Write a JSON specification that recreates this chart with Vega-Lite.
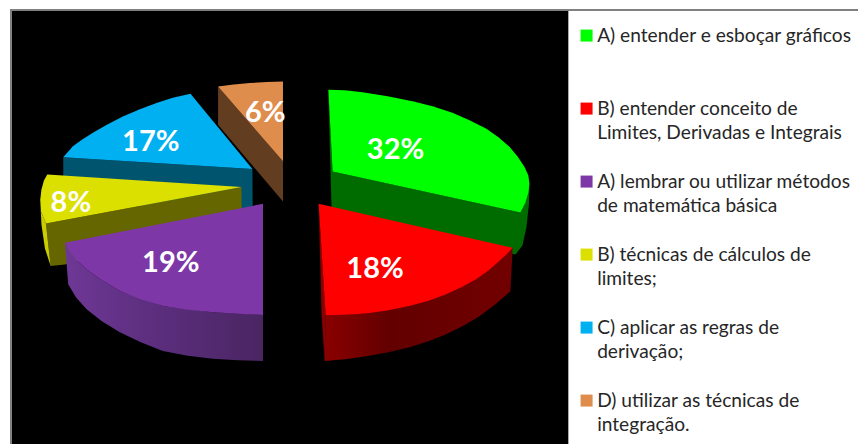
{
  "$schema": "https://vega.github.io/schema/vega-lite/v6.json",
  "width": 859,
  "height": 445,
  "padding": 0,
  "autosize": {"type": "fit", "contains": "padding"},
  "background": "white",
  "config": {"view": {"stroke": null}},
  "datasets": {
    "panel": [{"x": 12, "x2": 569, "y": 11, "y2": 445}],
    "frame": [{"x": 10, "x2": 859, "y": 10, "y2": 10}, {"x": 11, "x2": 11, "y": 10, "y2": 445}],
    "slices": [
      {"key": "A1", "name": "A) entender e esboçar gráficos", "share": 0.32, "cx": 396, "cy": 148},
      {"key": "B1", "name": "B) entender conceito de|Limites, Derivadas e Integrais", "share": 0.18, "cx": 375.5, "cy": 268},
      {"key": "A2", "name": "A) lembrar ou utilizar métodos|de matemática básica", "share": 0.19, "cx": 171, "cy": 262},
      {"key": "B2", "name": "B) técnicas de cálculos de|limites;", "share": 0.08, "cx": 71, "cy": 201},
      {"key": "C", "name": "C) aplicar as regras de|derivação;", "share": 0.17, "cx": 151, "cy": 140},
      {"key": "D", "name": "D) utilizar as técnicas de|integração.", "share": 0.06, "cx": 265.5, "cy": 111.5}
    ],
    "tops": [
      {"key": "A1", "n": 1, "x": 328.7, "y": 90}, {"key": "A1", "n": 2, "x": 345, "y": 90.5}, {"key": "A1", "n": 3, "x": 363, "y": 92.5},
      {"key": "A1", "n": 4, "x": 388, "y": 96.5}, {"key": "A1", "n": 5, "x": 413, "y": 101.5}, {"key": "A1", "n": 6, "x": 433, "y": 106.5},
      {"key": "A1", "n": 7, "x": 453, "y": 113}, {"key": "A1", "n": 8, "x": 470, "y": 120.5}, {"key": "A1", "n": 9, "x": 487, "y": 129},
      {"key": "A1", "n": 10, "x": 499, "y": 137.5}, {"key": "A1", "n": 11, "x": 510, "y": 147}, {"key": "A1", "n": 12, "x": 518, "y": 156.5},
      {"key": "A1", "n": 13, "x": 525, "y": 167}, {"key": "A1", "n": 14, "x": 529, "y": 176}, {"key": "A1", "n": 15, "x": 530, "y": 184},
      {"key": "A1", "n": 16, "x": 529, "y": 193}, {"key": "A1", "n": 17, "x": 526, "y": 203}, {"key": "A1", "n": 18, "x": 521, "y": 213},
      {"key": "A1", "n": 19, "x": 333, "y": 172}, {"key": "A1", "n": 20, "x": 328.7, "y": 90},

      {"key": "B1", "n": 1, "x": 319, "y": 204.3}, {"key": "B1", "n": 2, "x": 513.3, "y": 248.3}, {"key": "B1", "n": 3, "x": 507, "y": 255},
      {"key": "B1", "n": 4, "x": 500, "y": 261.7}, {"key": "B1", "n": 5, "x": 489, "y": 271}, {"key": "B1", "n": 6, "x": 476.7, "y": 280},
      {"key": "B1", "n": 7, "x": 462, "y": 288}, {"key": "B1", "n": 8, "x": 446.7, "y": 295}, {"key": "B1", "n": 9, "x": 429, "y": 301.5},
      {"key": "B1", "n": 10, "x": 410, "y": 306.7}, {"key": "B1", "n": 11, "x": 389, "y": 311}, {"key": "B1", "n": 12, "x": 366.7, "y": 314.3},
      {"key": "B1", "n": 13, "x": 346, "y": 315.5}, {"key": "B1", "n": 14, "x": 326, "y": 316}, {"key": "B1", "n": 15, "x": 319, "y": 204.3},

      {"key": "A2", "n": 1, "x": 263.3, "y": 204.3}, {"key": "A2", "n": 2, "x": 65, "y": 243.3}, {"key": "A2", "n": 3, "x": 70, "y": 252},
      {"key": "A2", "n": 4, "x": 77, "y": 261}, {"key": "A2", "n": 5, "x": 86.7, "y": 270}, {"key": "A2", "n": 6, "x": 102, "y": 281},
      {"key": "A2", "n": 7, "x": 120, "y": 291.7}, {"key": "A2", "n": 8, "x": 141, "y": 300}, {"key": "A2", "n": 9, "x": 163, "y": 306.7},
      {"key": "A2", "n": 10, "x": 188, "y": 310.5}, {"key": "A2", "n": 11, "x": 213, "y": 313}, {"key": "A2", "n": 12, "x": 238, "y": 314.5},
      {"key": "A2", "n": 13, "x": 263.3, "y": 315.7}, {"key": "A2", "n": 14, "x": 263.3, "y": 204.3},

      {"key": "B2", "n": 1, "x": 241.7, "y": 187.3}, {"key": "B2", "n": 2, "x": 47.3, "y": 175}, {"key": "B2", "n": 3, "x": 44, "y": 181},
      {"key": "B2", "n": 4, "x": 41.5, "y": 190}, {"key": "B2", "n": 5, "x": 40.3, "y": 200}, {"key": "B2", "n": 6, "x": 41, "y": 212},
      {"key": "B2", "n": 7, "x": 46, "y": 224}, {"key": "B2", "n": 8, "x": 241.7, "y": 187.3},

      {"key": "C", "n": 1, "x": 252.7, "y": 169.3}, {"key": "C", "n": 2, "x": 190.7, "y": 94}, {"key": "C", "n": 3, "x": 173, "y": 98},
      {"key": "C", "n": 4, "x": 156.7, "y": 103.3}, {"key": "C", "n": 5, "x": 140, "y": 109.5}, {"key": "C", "n": 6, "x": 123, "y": 116.7},
      {"key": "C", "n": 7, "x": 107, "y": 125}, {"key": "C", "n": 8, "x": 93, "y": 133}, {"key": "C", "n": 9, "x": 82, "y": 140},
      {"key": "C", "n": 10, "x": 73, "y": 146.7}, {"key": "C", "n": 11, "x": 63.3, "y": 157.7}, {"key": "C", "n": 12, "x": 252.7, "y": 169.3},

      {"key": "D", "n": 1, "x": 218.3, "y": 86.7}, {"key": "D", "n": 2, "x": 234, "y": 84.8}, {"key": "D", "n": 3, "x": 250, "y": 83.3},
      {"key": "D", "n": 4, "x": 267, "y": 82.2}, {"key": "D", "n": 5, "x": 283.3, "y": 81.7}, {"key": "D", "n": 6, "x": 283.3, "y": 161.7},
      {"key": "D", "n": 7, "x": 218.3, "y": 86.7}
    ],
    "walls": [
      {"wall": "orange", "n": 1, "x": 218.3, "y": 86.7}, {"wall": "orange", "n": 2, "x": 283.3, "y": 161.7}, {"wall": "orange", "n": 3, "x": 283.3, "y": 202}, {"wall": "orange", "n": 4, "x": 218.3, "y": 125},

      {"wall": "blue", "n": 1, "x": 63.3, "y": 157.7}, {"wall": "blue", "n": 2, "x": 252.7, "y": 169.3}, {"wall": "blue", "n": 3, "x": 253, "y": 215}, {"wall": "blue", "n": 4, "x": 63.3, "y": 200},

      {"wall": "green", "n": 1, "x": 328.7, "y": 90}, {"wall": "green", "n": 2, "x": 333, "y": 172}, {"wall": "green", "n": 3, "x": 521, "y": 213}, {"wall": "green", "n": 4, "x": 530, "y": 184},
      {"wall": "green", "n": 5, "x": 529.5, "y": 205}, {"wall": "green", "n": 6, "x": 527, "y": 228}, {"wall": "green", "n": 7, "x": 523, "y": 246}, {"wall": "green", "n": 8, "x": 516, "y": 255},
      {"wall": "green", "n": 9, "x": 332, "y": 212},

      {"wall": "yellow", "n": 1, "x": 46, "y": 224}, {"wall": "yellow", "n": 2, "x": 241.7, "y": 187.3}, {"wall": "yellow", "n": 3, "x": 242, "y": 215}, {"wall": "yellow", "n": 4, "x": 65, "y": 265}, {"wall": "yellow", "n": 5, "x": 50.7, "y": 266.7},

      {"wall": "rim", "n": 1, "x": 40.3, "y": 200}, {"wall": "rim", "n": 2, "x": 41, "y": 212}, {"wall": "rim", "n": 3, "x": 46, "y": 224}, {"wall": "rim", "n": 4, "x": 50.7, "y": 266.7}, {"wall": "rim", "n": 5, "x": 45, "y": 249}, {"wall": "rim", "n": 6, "x": 41.5, "y": 225},

      {"wall": "purple", "n": 1, "x": 65, "y": 243.3}, {"wall": "purple", "n": 2, "x": 70, "y": 252}, {"wall": "purple", "n": 3, "x": 77, "y": 261}, {"wall": "purple", "n": 4, "x": 86.7, "y": 270},
      {"wall": "purple", "n": 5, "x": 102, "y": 281}, {"wall": "purple", "n": 6, "x": 120, "y": 291.7}, {"wall": "purple", "n": 7, "x": 163, "y": 306.7}, {"wall": "purple", "n": 8, "x": 213, "y": 313},
      {"wall": "purple", "n": 9, "x": 263.3, "y": 315.7}, {"wall": "purple", "n": 10, "x": 263.3, "y": 361.7}, {"wall": "purple", "n": 11, "x": 238, "y": 361}, {"wall": "purple", "n": 12, "x": 213, "y": 359.5},
      {"wall": "purple", "n": 13, "x": 188, "y": 356.5}, {"wall": "purple", "n": 14, "x": 163, "y": 351.7}, {"wall": "purple", "n": 15, "x": 141, "y": 343}, {"wall": "purple", "n": 16, "x": 120, "y": 333},
      {"wall": "purple", "n": 17, "x": 102, "y": 322}, {"wall": "purple", "n": 18, "x": 86.7, "y": 310}, {"wall": "purple", "n": 19, "x": 76, "y": 298}, {"wall": "purple", "n": 20, "x": 68.3, "y": 285},

      {"wall": "red", "n": 1, "x": 326, "y": 316}, {"wall": "red", "n": 2, "x": 366.7, "y": 314.3}, {"wall": "red", "n": 3, "x": 410, "y": 306.7}, {"wall": "red", "n": 4, "x": 446.7, "y": 295},
      {"wall": "red", "n": 5, "x": 476.7, "y": 280}, {"wall": "red", "n": 6, "x": 500, "y": 261.7}, {"wall": "red", "n": 7, "x": 513.3, "y": 248.3}, {"wall": "red", "n": 8, "x": 511, "y": 292},
      {"wall": "red", "n": 9, "x": 496, "y": 305}, {"wall": "red", "n": 10, "x": 480, "y": 317}, {"wall": "red", "n": 11, "x": 464, "y": 326.5}, {"wall": "red", "n": 12, "x": 446.7, "y": 335},
      {"wall": "red", "n": 13, "x": 429, "y": 342}, {"wall": "red", "n": 14, "x": 410, "y": 348}, {"wall": "red", "n": 15, "x": 389, "y": 353}, {"wall": "red", "n": 16, "x": 366.7, "y": 357},
      {"wall": "red", "n": 17, "x": 346, "y": 360}, {"wall": "red", "n": 18, "x": 325, "y": 361.7},

      {"wall": "redEdge", "n": 1, "x": 319, "y": 204.3}, {"wall": "redEdge", "n": 2, "x": 326, "y": 316}, {"wall": "redEdge", "n": 3, "x": 325, "y": 361.7}, {"wall": "redEdge", "n": 4, "x": 322, "y": 316}
    ]
  },
  "encoding": {
    "x": {"type": "quantitative", "scale": {"domain": [0, 859]}, "axis": null},
    "y": {"type": "quantitative", "scale": {"domain": [445, 0]}, "axis": null}
  },
  "layer": [
    {
      "data": {"name": "panel"},
      "mark": {"type": "rect", "fill": "#000000"},
      "encoding": {"x": {"field": "x"}, "x2": {"field": "x2"}, "y": {"field": "y"}, "y2": {"field": "y2"}}
    },
    {
      "data": {"name": "frame"},
      "mark": {"type": "rule", "stroke": "#808080", "strokeWidth": 2},
      "encoding": {"x": {"field": "x"}, "x2": {"field": "x2"}, "y": {"field": "y"}, "y2": {"field": "y2"}}
    },
    {
      "data": {"name": "walls"},
      "transform": [{"filter": "datum.wall === 'orange'"}],
      "mark": {"type": "line", "filled": true, "fill": "#623D20", "stroke": null},
      "encoding": {"x": {"field": "x"}, "y": {"field": "y"}, "order": {"field": "n"}}
    },
    {
      "data": {"name": "walls"},
      "transform": [{"filter": "datum.wall === 'blue'"}],
      "mark": {"type": "line", "filled": true, "fill": "#00546E", "stroke": null},
      "encoding": {"x": {"field": "x"}, "y": {"field": "y"}, "order": {"field": "n"}}
    },
    {
      "data": {"name": "walls"},
      "transform": [{"filter": "datum.wall === 'green'"}],
      "mark": {"type": "line", "filled": true, "fill": "#006C00", "stroke": null},
      "encoding": {"x": {"field": "x"}, "y": {"field": "y"}, "order": {"field": "n"}}
    },
    {
      "data": {"name": "walls"},
      "transform": [{"filter": "datum.wall === 'yellow'"}],
      "mark": {"type": "line", "filled": true, "fill": "#666600", "stroke": null},
      "encoding": {"x": {"field": "x"}, "y": {"field": "y"}, "order": {"field": "n"}}
    },
    {
      "data": {"name": "walls"},
      "transform": [{"filter": "datum.wall === 'rim'"}],
      "mark": {"type": "line", "filled": true, "fill": "#C8CC00", "stroke": null},
      "encoding": {"x": {"field": "x"}, "y": {"field": "y"}, "order": {"field": "n"}}
    },
    {
      "data": {"name": "walls"},
      "transform": [{"filter": "datum.wall === 'purple'"}],
      "mark": {
        "type": "line", "filled": true, "stroke": null,
        "fill": {"gradient": "linear", "x1": 0, "x2": 1, "y1": 0, "y2": 0,
          "stops": [{"offset": 0, "color": "#6E3896"}, {"offset": 0.45, "color": "#5C2E7E"}, {"offset": 1, "color": "#4A2562"}]}
      },
      "encoding": {"x": {"field": "x"}, "y": {"field": "y"}, "order": {"field": "n"}}
    },
    {
      "data": {"name": "walls"},
      "transform": [{"filter": "datum.wall === 'red'"}],
      "mark": {
        "type": "line", "filled": true, "stroke": null,
        "fill": {"gradient": "linear", "x1": 0, "x2": 1, "y1": 0, "y2": 0,
          "stops": [{"offset": 0, "color": "#8A0000"}, {"offset": 0.35, "color": "#620000"}, {"offset": 1, "color": "#720000"}]}
      },
      "encoding": {"x": {"field": "x"}, "y": {"field": "y"}, "order": {"field": "n"}}
    },
    {
      "data": {"name": "walls"},
      "transform": [{"filter": "datum.wall === 'redEdge'"}],
      "mark": {"type": "line", "filled": true, "fill": "#8A0000", "stroke": null},
      "encoding": {"x": {"field": "x"}, "y": {"field": "y"}, "order": {"field": "n"}}
    },
    {
      "data": {"name": "tops"},
      "transform": [{"lookup": "key", "from": {"data": {"name": "slices"}, "key": "key", "fields": ["name"]}}],
      "mark": {"type": "line", "filled": true, "stroke": null},
      "encoding": {
        "x": {"field": "x"},
        "y": {"field": "y"},
        "order": {"field": "n"},
        "fill": {
          "field": "name",
          "type": "nominal",
          "scale": {
            "domain": [
              "A) entender e esboçar gráficos",
              "B) entender conceito de|Limites, Derivadas e Integrais",
              "A) lembrar ou utilizar métodos|de matemática básica",
              "B) técnicas de cálculos de|limites;",
              "C) aplicar as regras de|derivação;",
              "D) utilizar as técnicas de|integração."
            ],
            "range": ["#00FF00", "#FF0000", "#7D37A6", "#DCE000", "#00B0F0", "#DF8D4C"]
          },
          "legend": {
            "title": null,
            "orient": "none",
            "legendX": 577,
            "legendY": 26,
            "symbolType": "square",
            "symbolSize": 144,
            "symbolStrokeWidth": 0,
            "labelFont": "Lato",
            "labelFontSize": 19.15,
            "labelColor": "#262626",
            "labelBaseline": "middle",
            "labelLimit": 320,
            "labelOffset": 1,
            "rowPadding": 28,
            "labelExpr": "split(datum.label + (indexof(datum.label, '|') < 0 ? '|' : ''), '|')",
            "encoding": {"labels": {"lineHeight": {"value": 24.5}}}
          }
        }
      }
    },
    {
      "data": {"name": "slices"},
      "mark": {"type": "text", "font": "Lato", "fontWeight": "bold", "fontSize": 29, "dy": 2, "fill": "#FFFFFF", "align": "center", "baseline": "middle"},
      "encoding": {
        "x": {"field": "cx"},
        "y": {"field": "cy"},
        "text": {"field": "share", "type": "quantitative", "format": ".0%"}
      }
    }
  ]
}
